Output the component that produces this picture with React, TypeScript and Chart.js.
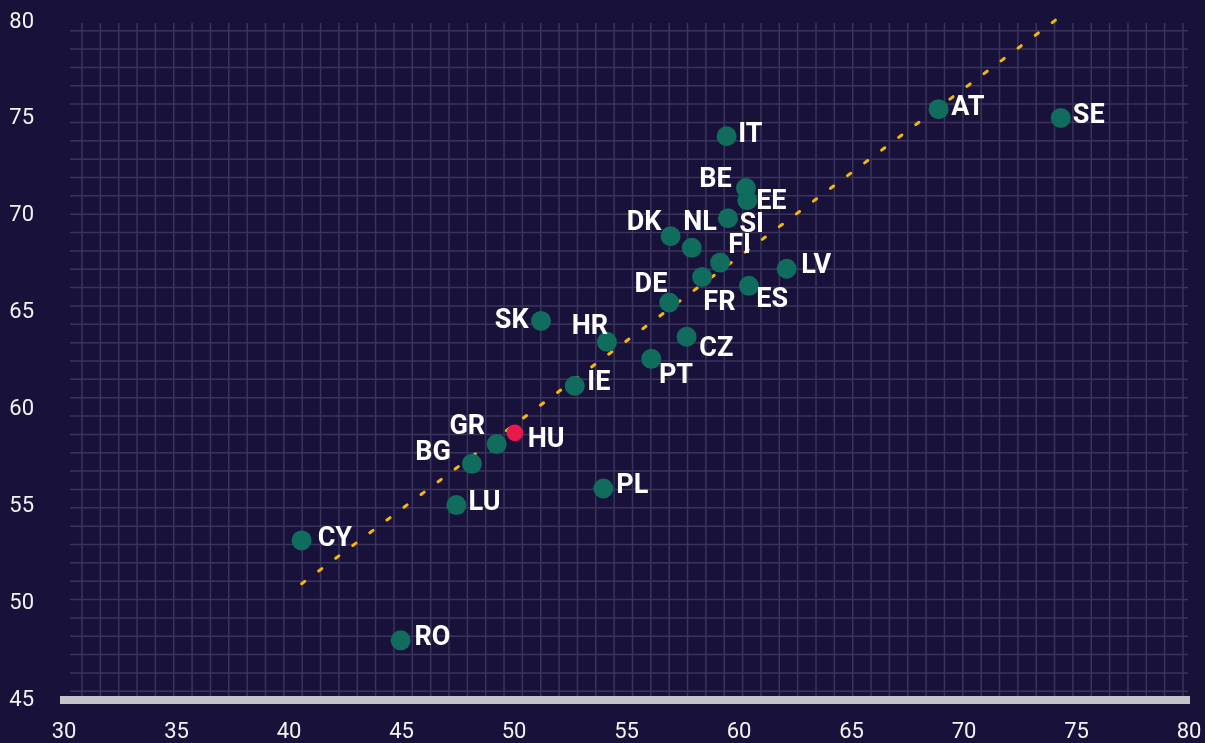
import React, { useEffect, useRef } from "react";
import { Chart, registerables } from "chart.js";

Chart.register(...registerables);

// ---- data ----
const COUNTRIES = ["CY", "RO", "LU", "BG", "GR", "HU", "IE", "PL", "SK", "HR", "PT", "CZ", "DE", "FR", "FI", "NL", "DK", "SI", "EE", "BE", "ES", "LV", "IT", "AT", "SE"];
const X_VALUES = [40.56, 44.96, 47.44, 48.13, 49.23, 50.04, 52.70, 53.97, 51.20, 54.13, 56.10, 57.67, 56.90, 58.36, 59.16, 57.90, 56.96, 59.51, 60.37, 60.31, 60.44, 62.12, 59.45, 68.87, 74.30];
const Y_VALUES = [53.24, 48.08, 55.06, 57.19, 58.21, 58.79, 61.22, 55.92, 64.57, 63.49, 62.61, 63.75, 65.52, 66.84, 67.58, 68.34, 68.94, 69.87, 70.80, 71.43, 66.38, 67.26, 74.10, 75.50, 75.05];
const HIGHLIGHT = "HU";
const TREND_X = [40.56, 74.30];
const TREND_Y = [51.0, 80.3];
const X_TICKS = [30, 35, 40, 45, 50, 55, 60, 65, 70, 75, 80];
const Y_TICKS = [45, 50, 55, 60, 65, 70, 75, 80];

// ---- style ----
const BG = "#18123a";
const GRID = "#3a345c";
const TEAL = "#106c5c";
const RED = "#e8194b";
const YELLOW = "#f6b60a";
const AXIS_BAR = "#c4c4c8";
const LABEL_FONT_SIZE = 27;

// label centre offsets (px) relative to each point
const LABEL_OFFSETS: Record<string, [number, number]> = {
  CY: [33.3, -4.3], RO: [31.8, -5.3], LU: [28.2, -5], BG: [-38.8, -13.2], GR: [-29.4, -19.5],
  HU: [31.3, 4.5], IE: [24.1, -5.4], PL: [29, -4.6], SK: [-29.3, -2.7], HR: [-17, -17.5],
  PT: [24.7, 14.6], CZ: [29.8, 9.3], DE: [-18.3, -20.3], FR: [17.3, 23], FI: [19.5, -19],
  NL: [8.3, -27.9], DK: [-26.5, -16], SI: [23.7, 3.8], EE: [24, -0.5], BE: [-30.5, -10.5],
  ES: [23.3, 11.8], LV: [29.5, -4.9], IT: [23.8, -4.3], AT: [29.3, -4], SE: [28, -4.7],
};

const backgroundPlugin = {
  id: "bgGrid",
  beforeDraw(chart: any) {
    const { ctx, chartArea, width, height } = chart;
    ctx.save();
    ctx.fillStyle = BG;
    ctx.fillRect(0, 0, width, height);
    ctx.strokeStyle = GRID;
    ctx.lineWidth = 1.5;
    const step = 18.35;
    const vx0 = chartArea.left + 18;
    const vTop = chartArea.top + 1;
    const vBot = chartArea.bottom - 3;
    ctx.beginPath();
    for (let x = vx0; x <= chartArea.right - 4; x += step) {
      ctx.moveTo(x, vTop);
      ctx.lineTo(x, vBot);
    }
    const hy0 = chartArea.top + 8.7;
    const hLeft = chartArea.left + 6;
    const hRight = chartArea.right - 1;
    for (let y = hy0; y <= chartArea.bottom - 6; y += step) {
      ctx.moveTo(hLeft, y);
      ctx.lineTo(hRight, y);
    }
    ctx.stroke();
    ctx.restore();
  },
};

const labelPlugin = {
  id: "pointLabels",
  afterDatasetsDraw(chart: any) {
    const meta = chart.getDatasetMeta(0);
    const ctx = chart.ctx;
    ctx.save();
    ctx.font = `bold ${LABEL_FONT_SIZE}px Roboto, "Noto Sans", sans-serif`;
    ctx.fillStyle = "#ffffff";
    ctx.textAlign = "center";
    ctx.textBaseline = "alphabetic";
    meta.data.forEach((el: any, i: number) => {
      const name = COUNTRIES[i];
      const [dx, dy] = LABEL_OFFSETS[name] || [28, -4];
      ctx.fillText(name, el.x + dx, el.y + dy + (LABEL_FONT_SIZE * 0.711) / 2);
    });
    ctx.restore();
  },
};

export default function App() {
  const ref = useRef<HTMLCanvasElement | null>(null);

  useEffect(() => {
    if (!ref.current) return;
    const points = COUNTRIES.map((c, i) => ({ x: X_VALUES[i], y: Y_VALUES[i] }));
    const colors = COUNTRIES.map((c) => (c === HIGHLIGHT ? RED : TEAL));
    const radii = COUNTRIES.map((c) => (c === HIGHLIGHT ? 8.3 : 10));
    const trend = TREND_X.map((x, i) => ({ x, y: TREND_Y[i] }));

    const chart = new Chart(ref.current, {
      type: "scatter",
      data: {
        datasets: [
          {
            label: "countries",
            data: points,
            backgroundColor: colors,
            pointBackgroundColor: colors,
            pointBorderWidth: 0,
            borderWidth: 0,
            pointRadius: radii,
            pointHoverRadius: radii,
          } as any,
          {
            type: "line",
            label: "trend",
            data: trend,
            borderColor: YELLOW,
            borderWidth: 3,
            borderDash: [4, 17.3],
            borderCapStyle: "round",
            pointRadius: 0,
            fill: false,
            showLine: true,
            clip: false,
          } as any,
        ],
      },
      options: {
        animation: false,
        responsive: false,
        devicePixelRatio: 1,
        layout: { padding: { left: 0, right: 16, top: 22, bottom: 0 } },
        plugins: { legend: { display: false }, tooltip: { enabled: false } },
        scales: {
          x: {
            type: "linear",
            min: 30,
            max: 80,
            afterBuildTicks: (s: any) => {
              s.ticks = X_TICKS.map((v) => ({ value: v }));
            },
            afterFit: (s: any) => {
              s.height = 43;
              s.paddingLeft = 0;
              s.paddingRight = 0;
              s.paddingTop = 0;
              s.paddingBottom = 0;
            },
            grid: { display: true, color: "rgba(0,0,0,0)", drawTicks: false },
            border: { display: true, color: AXIS_BAR, width: 8 },
            ticks: {
              color: "#f2f2f2",
              padding: 19,
              font: { family: "Roboto", size: 22 },
              maxRotation: 0,
            },
          },
          y: {
            type: "linear",
            min: 45,
            max: 80,
            afterBuildTicks: (s: any) => {
              s.ticks = Y_TICKS.map((v) => ({ value: v }));
            },
            afterFit: (s: any) => {
              s.width = 64;
              s.paddingLeft = 0;
              s.paddingRight = 0;
              s.paddingTop = 0;
              s.paddingBottom = 0;
            },
            grid: { display: false, drawTicks: false },
            border: { display: false },
            ticks: {
              color: "#f2f2f2",
              padding: 30,
              font: { family: "Roboto", size: 22 },
            },
          },
        },
      },
      plugins: [backgroundPlugin, labelPlugin],
    } as any);

    return () => chart.destroy();
  }, []);

  return (
    <div style={{ position: "fixed", left: 0, top: 0, width: 1205, height: 743, background: BG }}>
      <canvas ref={ref} width={1205} height={743} style={{ display: "block" }} />
    </div>
  );
}
